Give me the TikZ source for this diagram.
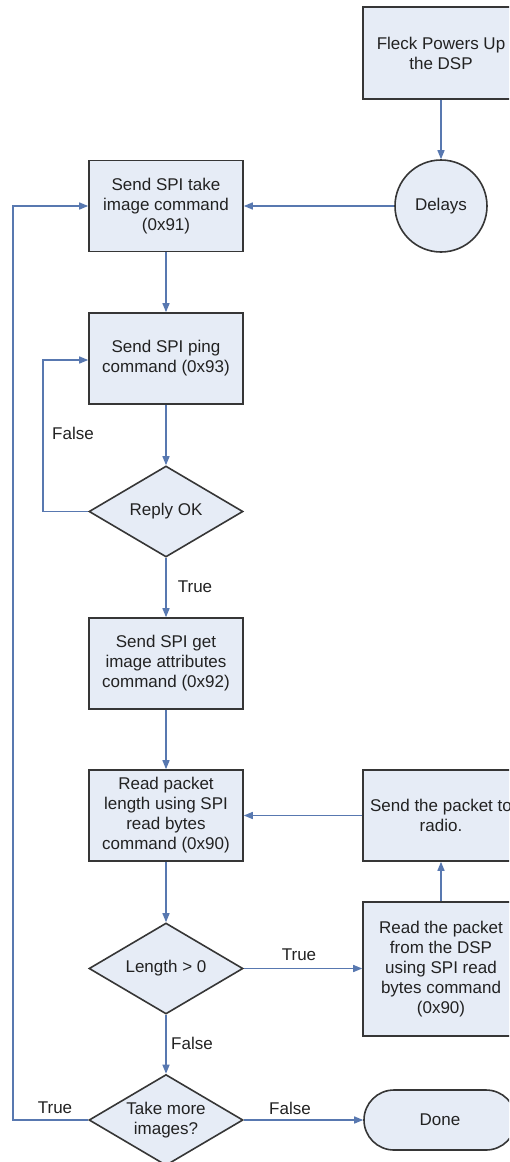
\documentclass[tikz,border=0pt]{standalone}
\usepackage{fontspec}
\setmainfont{Liberation Sans}
\usetikzlibrary{shapes.geometric,arrows.meta}
\definecolor{boxfill}{HTML}{E6ECF6}
\definecolor{boxline}{HTML}{363636}
\definecolor{flow}{HTML}{5878B0}
\definecolor{ink}{HTML}{222222}
\tikzset{
  base/.style={draw=boxline, line width=1.6pt, fill=boxfill, text=ink,
    align=center, inner sep=0pt, font=\fontsize{17}{20}\selectfont},
  procbox/.style={base, rectangle, minimum width=154, minimum height=91},
  decision/.style={base, diamond, aspect=1.7, minimum width=154, minimum height=91},
  delaycirc/.style={base, circle, minimum size=92},
  terminal/.style={base, rectangle, rounded corners=30, minimum width=152, minimum height=60},
  flowline/.style={draw=flow, line width=1.4pt, -{Triangle[length=9pt,width=7pt]}},
  lbl/.style={text=ink, inner sep=0pt, font=\fontsize{17}{20}\selectfont}
}
\begin{document}
\begin{tikzpicture}[x=1pt, y=-1pt]
\useasboundingbox (0,0) rectangle (509,1162);
\fill[white] (0,0) rectangle (509,1162);
\clip (0,0) rectangle (509,1162);

% right column
\node[procbox, minimum width=156, minimum height=92] (fleck) at (441,53) {Fleck Powers Up\\the DSP};
\node[delaycirc] (delays) at (441,206) {Delays};
\node[procbox, minimum width=156, minimum height=91] (radio) at (441,815.5) {Send the packet to\\radio.};
\node[procbox, minimum width=156, minimum height=134] (readpkt) at (441,969) {Read the packet\\from the DSP\\using SPI read\\bytes command\\(0x90)};
\node[terminal] (done) at (440,1120) {Done};

% main column
\node[procbox] (take) at (166,206) {Send SPI take\\image command\\(0x91)};
\node[procbox] (ping) at (166,358.5) {Send SPI ping\\command (0x93)};
\node[decision] (reply) at (166,511.5) {Reply OK};
\node[procbox] (attr) at (166,663.5) {Send SPI get\\image attributes\\command (0x92)};
\node[procbox] (len) at (166,815.5) {Read packet\\length using SPI\\read bytes\\command (0x90)};
\node[decision] (haslen) at (166,968.5) {Length > 0};
\node[decision] (more) at (166,1120) {Take more\\images?};

% loop corners
\coordinate (pingloop) at (43,360);
\coordinate (outerloop) at (13,206);

% connectors
\draw[flowline] (fleck.south) -- (delays.north);
\draw[flowline] (delays.west) -- (take.east);
\draw[flowline] (take.south) -- (ping.north);
\draw[flowline] (ping.south) -- (reply.north);
\draw[flowline] (reply.west) -| (pingloop) -- (pingloop -| ping.west);
\draw[flowline] (reply.south) -- (attr.north);
\draw[flowline] (attr.south) -- (len.north);
\draw[flowline] (len.south) -- (haslen.north);
\draw[flowline] (haslen.east) -- (readpkt.west |- haslen.east);
\draw[flowline] (readpkt.north) -- (radio.south);
\draw[flowline] (radio.west) -- (len.east);
\draw[flowline] (haslen.south) -- (more.north);
\draw[flowline] (more.east) -- (done.west);
\draw[flowline] (more.west) -| (outerloop) -- (take.west);

% branch labels
\node[lbl] (lfalse1) at (73,433) {False};
\node[lbl] (ltrue1) at (195,587) {True};
\node[lbl] (ltrue2) at (299,955) {True};
\node[lbl] (lfalse2) at (192,1043) {False};
\node[lbl] (ltrue3) at (55,1108) {True};
\node[lbl] (lfalse3) at (290,1108) {False};
\end{tikzpicture}
\end{document}
